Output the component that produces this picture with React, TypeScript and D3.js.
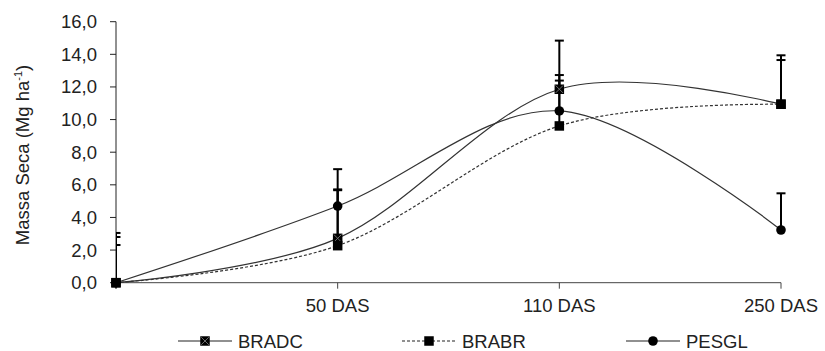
import React from "react";
import * as d3 from "d3";

const categories = ["", "50 DAS", "110 DAS", "250 DAS"];
const bradc = [0, 2.72, 11.86, 10.94];
const bradcErr = [3.05, 3.0, 2.98, 3.0];
const brabr = [0, 2.27, 9.61, 10.94];
const brabrErr = [2.31, 3.4, 3.12, 2.71];
const pesgl = [0, 4.7, 10.53, 3.23];
const pesglErr = [2.8, 2.26, 1.86, 2.25];
const yTicks = [0, 2, 4, 6, 8, 10, 12, 14, 16];
const seriesNames = ["BRADC", "BRABR", "PESGL"];

const W = 825;
const H = 351;
const FONT = "'Liberation Sans', Arial, sans-serif";

export default function App() {
  const x = d3.scalePoint<string>().domain(categories).range([116, 781]);
  const y = d3.scaleLinear().domain([0, 16]).range([282.7, 21.7]);
  const line = d3
    .line<number>()
    .x((_, i) => x(categories[i]) as number)
    .y((d) => y(d))
    .curve(d3.curveCardinal.tension(0));
  const fmt = (v: number) => d3.format(".1f")(v).replace(".", ",");

  const series = [
    { name: seriesNames[0], vals: bradc, err: bradcErr, dash: "none", marker: "sqx" },
    { name: seriesNames[1], vals: brabr, err: brabrErr, dash: "3,2", marker: "sq" },
    { name: seriesNames[2], vals: pesgl, err: pesglErr, dash: "none", marker: "circle" },
  ];

  const marker = (type: string, cx: number, cy: number, key: string) => {
    if (type === "circle") return <circle key={key} cx={cx} cy={cy} r={4.8} fill="#000" />;
    const s = 9.5;
    return (
      <g key={key}>
        <rect x={cx - s / 2} y={cy - s / 2} width={s} height={s} fill="#000" />
        {type === "sqx" && (
          <path
            d={`M${cx - s / 2 + 1},${cy - s / 2 + 1}L${cx + s / 2 - 1},${cy + s / 2 - 1}M${cx + s / 2 - 1},${cy - s / 2 + 1}L${cx - s / 2 + 1},${cy + s / 2 - 1}`}
            stroke="#777"
            strokeWidth={0.9}
          />
        )}
      </g>
    );
  };

  const x0 = x(categories[0]) as number;
  const x1 = x(categories[categories.length - 1]) as number;
  const legendX = [178, 402, 626];
  const legendY = 341;

  return (
    <svg width={W} height={H} style={{ position: "absolute", left: 0, top: 0, background: "#fff" }}>
      <defs>
        <clipPath id="plot">
          <rect x={x0} y={0} width={W - x0} height={H} />
        </clipPath>
      </defs>
      {/* axes */}
      <line x1={x0} x2={x0} y1={y(16)} y2={y(0) + 6} stroke="#222" strokeWidth={1} />
      <line x1={x0} x2={x1} y1={y(0)} y2={y(0)} stroke="#444" strokeWidth={1} />
      {yTicks.map((t) => (
        <g key={t}>
          <line x1={x0 - 6} x2={x0} y1={y(t)} y2={y(t)} stroke="#222" />
          <text
            x={97}
            y={y(t)}
            dy="0.35em"
            textAnchor="end"
            fontFamily={FONT}
            fontSize={18.5}
            fill="#222"
          >
            {fmt(t)}
          </text>
        </g>
      ))}
      {categories.map((c) => (
        <g key={"c" + c}>
          <line x1={x(c)} x2={x(c)} y1={y(0)} y2={y(0) + 6} stroke="#444" />
          <text
            x={x(c)}
            y={312}
            textAnchor="middle"
            fontFamily={FONT}
            fontSize={18.5}
            fill="#222"
          >
            {c}
          </text>
        </g>
      ))}
      <text
        transform={`translate(29,155) rotate(-90)`}
        textAnchor="middle"
        fontFamily={FONT}
        fontSize={18.5}
        fill="#222"
      >
        Massa Seca (Mg ha
        <tspan fontSize={11} dy={-7}>-1</tspan>
        <tspan dy={7}>)</tspan>
      </text>
      {/* lines */}
      {series.map((s) => (
        <path
          key={"l" + s.name}
          d={line(s.vals) as string}
          fill="none"
          stroke="#333"
          strokeWidth={1.2}
          strokeDasharray={s.dash}
        />
      ))}
      {/* error bars */}
      <g clipPath="url(#plot)">
        {series.map((s) =>
          s.vals.map((v, i) => {
            const cx = x(categories[i]) as number;
            return (
              <g key={"e" + s.name + i}>
                <line x1={cx} x2={cx} y1={y(v)} y2={y(v + s.err[i])} stroke="#000" strokeWidth={2} />
                <line
                  x1={cx - 4.5}
                  x2={cx + 4.5}
                  y1={y(v + s.err[i])}
                  y2={y(v + s.err[i])}
                  stroke="#000"
                  strokeWidth={2}
                />
              </g>
            );
          })
        )}
      </g>
      {/* markers */}
      {series.map((s) =>
        s.vals.map((v, i) => marker(s.marker, x(categories[i]) as number, y(v), "m" + s.name + i))
      )}
      {/* legend */}
      {series.map((s, i) => (
        <g key={"lg" + s.name}>
          <line
            x1={legendX[i]}
            x2={legendX[i] + 54}
            y1={legendY}
            y2={legendY}
            stroke="#222"
            strokeWidth={1.2}
            strokeDasharray={s.dash}
          />
          {marker(s.marker, legendX[i] + 27, legendY, "lm" + i)}
          <text
            x={legendX[i] + 60}
            y={legendY}
            dy="0.36em"
            fontFamily={FONT}
            fontSize={18.5}
            fill="#222"
          >
            {s.name}
          </text>
        </g>
      ))}
    </svg>
  );
}
